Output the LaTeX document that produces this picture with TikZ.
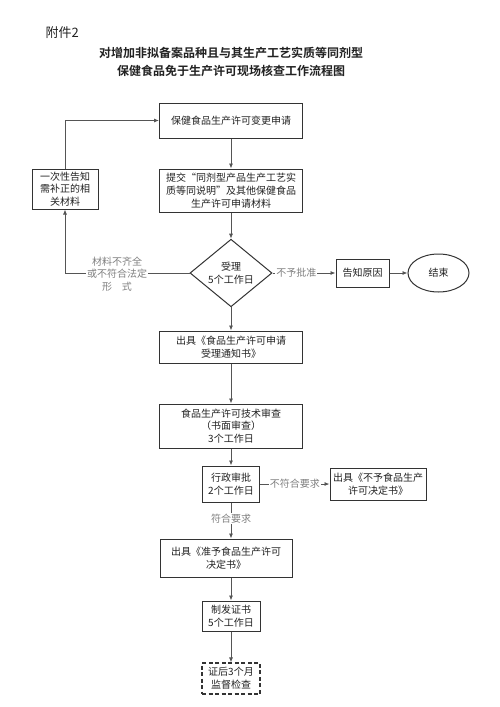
\documentclass[tikz,border=0pt]{standalone}
\usepackage{fontspec}
\setmainfont{Noto Sans CJK SC}[BoldFont={Noto Sans CJK SC Bold}]
\usetikzlibrary{shapes.geometric,arrows.meta}
\definecolor{boxline}{HTML}{333333}
\definecolor{conn}{HTML}{555555}
\definecolor{lbl}{HTML}{808080}
\definecolor{txt}{HTML}{222222}
\tikzset{
  box/.style={draw=boxline, line width=1pt, align=center, inner sep=0pt, text=txt,
    font=\fontsize{10}{12.8}\selectfont},
  dbox/.style={box, line width=1.2pt, dash pattern=on 4pt off 2.5pt},
  conn/.style={draw=conn, line width=0.8pt, -{Latex[length=5pt,width=4pt]}},
  lab/.style={fill=white, text=lbl, inner sep=1pt, align=center, font=\fontsize{10}{12.5}\selectfont},
}
\begin{document}
\begin{tikzpicture}[x=1pt,y=-1pt]
\useasboundingbox (0,0) rectangle (500,707);
\fill[white] (0,0) rectangle (500,707);
\node[font=\fontsize{13}{15}\selectfont, text=txt, anchor=west] (att) at (42,33) {附件2};
\node[font=\fontsize{12}{18}\selectfont\bfseries, text=txt, align=center] (title) at (231,62)
  {对增加非拟备案品种且与其生产工艺实质等同剂型\\保健食品免于生产许可现场核查工作流程图};

\node[box, minimum width=143, minimum height=35] (apply) at (231,120.5) {保健食品生产许可变更申请};
\node[box, minimum width=143, minimum height=43] (submit) at (231,190.5)
  {提交“同剂型产品生产工艺实\\质等同说明”及其他保健食品\\生产许可申请材料};
\node[box, minimum width=66, minimum height=40] (notify) at (65,189)
  {一次性告知\\需补正的相\\关材料};
\node[box, shape=diamond, minimum width=82, minimum height=54] (accept) at (231,273)
  {受理\\5个工作日};
\node[box, minimum width=53, minimum height=28] (reason) at (362.5,273) {告知原因};
\node[box, shape=ellipse, minimum width=61, minimum height=38] (end) at (438.5,273) {结束};
\node[box, minimum width=143, minimum height=32] (notice) at (231,347)
  {出具《食品生产许可申请\\受理通知书》};
\node[box, minimum width=143, minimum height=44] (tech) at (231,426)
  {食品生产许可技术审查\\（书面审查）\\3个工作日};
\node[box, minimum width=57, minimum height=36] (admin) at (231,484)
  {行政审批\\2个工作日};
\node[box, minimum width=96, minimum height=32] (reject) at (378,484)
  {出具《不予食品生产\\许可决定书》};
\node[box, minimum width=132, minimum height=38] (approve) at (226,558)
  {出具《准予食品生产许可\\决定书》};
\node[box, minimum width=58, minimum height=30] (issue) at (231,616)
  {制发证书\\5个工作日};
\node[dbox, minimum width=58, minimum height=31] (super) at (231,678.5)
  {证后3个月\\监督检查};

\coordinate (c1) at (65,273);
\coordinate (c2) at (65,120.5);

\draw[conn] (apply) -- (submit);
\draw[conn] (submit) -- (accept);
\draw[conn] (accept.west) -- (c1) -- (notify.south);
\node[lab] (l1) at (117,274) {材料不齐全\\或不符合法定\\形\quad 式};
\draw[conn] (notify.north) -- (c2) -- (apply.west);
\draw[conn] (accept.east) -- (reason.west) node[lab, pos=0.38] (l2) {不予批准};
\draw[conn] (reason) -- (end);
\draw[conn] (accept.south) -- (notice.north);
\draw[conn] (notice) -- (tech);
\draw[conn] (tech) -- (admin);
\draw[conn] (admin) -- (reject) node[lab, midway] (l3) {不符合要求};
\draw[conn] (admin.south) -- (admin.south |- approve.north) node[lab, pos=0.45] (l4) {符合要求};
\draw[conn] (approve.south -| issue.north) -- (issue.north);
\draw[conn] (issue) -- (super);
\end{tikzpicture}
\end{document}
